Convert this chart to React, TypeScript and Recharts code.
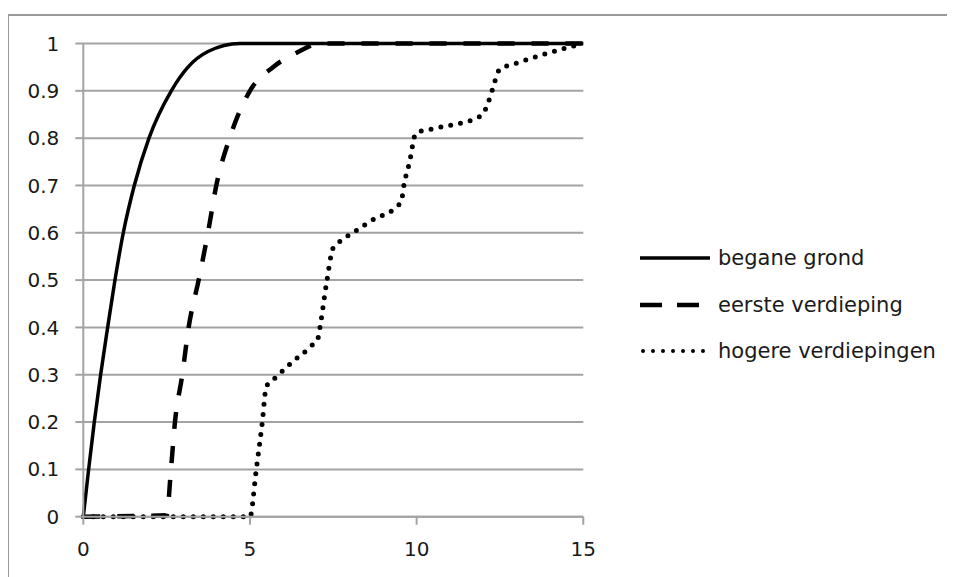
import { LineChart, Line, XAxis, YAxis, CartesianGrid } from "recharts";

const groundX = [0, 0.16, 0.33, 0.52, 0.73, 0.95, 1.2, 1.53, 1.97, 2.64, 3.14, 3.74, 4.7, 15];
const groundY = [0, 0.1, 0.2, 0.3, 0.4, 0.5, 0.6, 0.7, 0.8, 0.9, 0.95, 0.983, 1, 1];

const firstX = [0, 2.5, 2.63, 2.75, 2.97, 3.16, 3.46, 3.74, 3.99, 4.39, 5.0, 5.69, 6.39, 7.1, 15];
const firstY = [0, 0.003, 0.1, 0.2, 0.3, 0.4, 0.5, 0.6, 0.7, 0.8, 0.9, 0.95, 0.98, 1, 1];

const higherX = [
  0, 5, 5.19, 5.37, 5.49, 5.69, 6.29, 6.84, 7.04, 7.1, 7.31, 7.49, 7.69, 8.13, 8.6, 9.53, 9.63,
  9.78, 9.98, 10.58, 11.93, 12.08, 12.28, 12.48, 12.98, 13.77, 14.67, 15,
];
const higherY = [
  0, 0, 0.1, 0.2, 0.275, 0.289, 0.328, 0.361, 0.377, 0.4, 0.5, 0.567, 0.581, 0.602, 0.624, 0.664,
  0.705, 0.747, 0.811, 0.821, 0.847, 0.863, 0.904, 0.944, 0.958, 0.976, 0.994, 1,
];

const xTicks = [0, 5, 10, 15];
const yTicks = [0, 0.1, 0.2, 0.3, 0.4, 0.5, 0.6, 0.7, 0.8, 0.9, 1];

const zip = (xs: number[], ys: number[]) => xs.map((x, i) => ({ x, y: ys[i] }));

const series = [
  { name: "begane grond", data: zip(groundX, groundY), width: 3.5, dash: undefined, cap: "butt" },
  { name: "eerste verdieping", data: zip(firstX, firstY), width: 4.5, dash: "17 17", cap: "butt" },
  { name: "hogere verdiepingen", data: zip(higherX, higherY), width: 5, dash: "0 10", cap: "round" },
];

const FONT = "'DejaVu Sans', sans-serif";
const GRID = "#a3a3a3";
const TEXT = "#1a1a1a";

function LegendBox() {
  const sampleDash = ["", "22 15", "0 10"];
  return (
    <div style={{ position: "absolute", left: 632, top: 227, fontFamily: FONT, fontSize: 21, color: TEXT }}>
      {series.map((s, i) => (
        <div key={s.name} style={{ display: "flex", alignItems: "center", height: 46.5 }}>
          <svg width={78} height={20} style={{ display: "block" }}>
            <line
              x1={s.cap === "round" ? 3 : 0}
              x2={70}
              y1={10}
              y2={10}
              stroke="#000"
              strokeWidth={i === 2 ? 4 : s.width}
              strokeDasharray={sampleDash[i] || undefined}
              strokeLinecap={s.cap as "butt" | "round"}
            />
          </svg>
          <span style={{ whiteSpace: "nowrap" }}>{s.name}</span>
        </div>
      ))}
    </div>
  );
}

export default function App() {
  return (
    <div style={{ position: "relative", width: 947, height: 569, overflow: "hidden", background: "#fff" }}>
      <div
        style={{
          position: "absolute",
          left: -1,
          top: 6,
          width: 1100,
          height: 800,
          border: "2px solid #999",
          boxSizing: "border-box",
        }}
      />
      <div style={{ position: "absolute", left: 0, top: 0 }}>
        <LineChart width={947} height={569} margin={{ top: 35.5, right: 371.7, bottom: 0, left: 0 }}>
          <CartesianGrid vertical={false} stroke={GRID} strokeWidth={2} />
          <XAxis
            type="number"
            dataKey="x"
            domain={[0, 15]}
            ticks={xTicks}
            height={60.3}
            stroke={GRID}
            strokeWidth={2}
            tickSize={8}
            tickMargin={17}
            tick={{ fill: TEXT, fontSize: 20, fontFamily: FONT }}
            allowDuplicatedCategory={false}
          />
          <YAxis
            type="number"
            domain={[0, 1]}
            ticks={yTicks}
            width={75.3}
            stroke={GRID}
            strokeWidth={2}
            tickSize={8}
            tickMargin={16}
            tick={{ fill: TEXT, fontSize: 20, fontFamily: FONT }}
          />
          {[...series].reverse().map((s) => (
            <Line
              key={s.name}
              data={s.data}
              dataKey="y"
              type="monotone"
              stroke="#000"
              strokeWidth={s.width}
              strokeDasharray={s.dash}
              strokeLinecap={s.cap as "butt" | "round"}
              dot={false}
              activeDot={false}
              isAnimationActive={false}
            />
          ))}
        </LineChart>
      </div>
      <LegendBox />
    </div>
  );
}
